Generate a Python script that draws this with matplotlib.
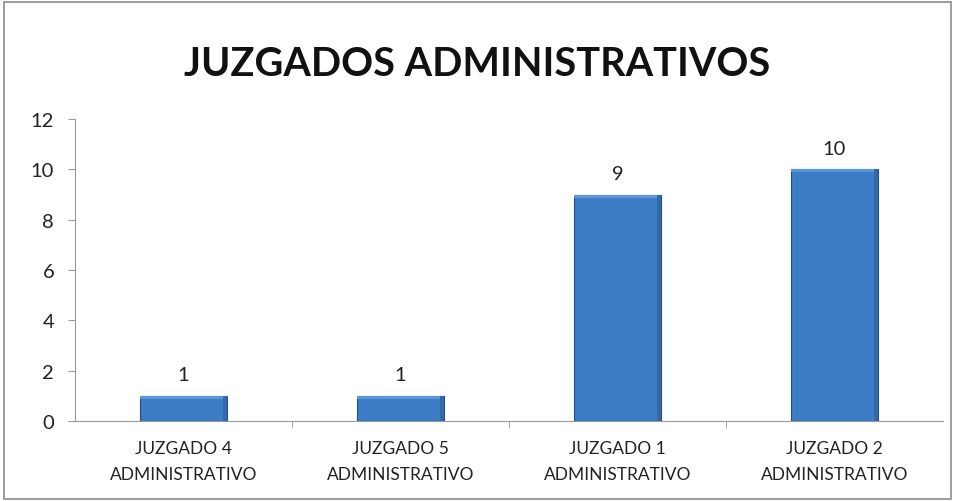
import numpy as np
import matplotlib.pyplot as plt
from matplotlib.patches import Rectangle

categories = ['JUZGADO 4\nADMINISTRATIVO', 'JUZGADO 5\nADMINISTRATIVO',
              'JUZGADO 1\nADMINISTRATIVO', 'JUZGADO 2\nADMINISTRATIVO']
values = [1, 1, 9, 10]
yticks = [0, 2, 4, 6, 8, 10, 12]

plt.rcParams['font.family'] = ['Lato', 'DejaVu Sans']

fig = plt.figure(figsize=(9.55, 5.02), dpi=100)
# chart frame
fig.patches.append(Rectangle((0.004, 0.004), 0.992, 0.99, transform=fig.transFigure,
                             fill=False, edgecolor='#8c8c8c', linewidth=1.2))

ax = fig.add_axes([75 / 955, (502 - 422) / 502, (943 - 75) / 955, (422 - 120) / 502])

x = np.arange(len(values))
bars = ax.bar(x, values, width=0.4, color='#3d7cc6', edgecolor='#23517f', linewidth=0.8, zorder=3)

# simple bevel: lighter top strip and darker right strip
for b in bars:
    bx, by, bw, bh = b.get_x(), b.get_y(), b.get_width(), b.get_height()
    ax.add_patch(Rectangle((bx, by + bh - 0.12), bw, 0.12, color='#5b97d8', lw=0, zorder=4))
    ax.add_patch(Rectangle((bx + bw * 0.95, by), bw * 0.05, bh, color='#3468a6', lw=0, zorder=4))

for xi, v in zip(x, values):
    ax.text(xi, v + 0.5, str(v), ha='center', va='bottom', fontsize=14.5, color='#222222')

ax.set_xlim(-0.5, len(values) - 0.5)
ax.set_ylim(0, 12)
ax.set_yticks(yticks)
ax.set_yticklabels([str(t) for t in yticks], fontsize=14.5, color='#222222')
ax.set_xticks(x)
ax.set_xticklabels(categories, fontsize=12.5, color='#222222', linespacing=1.75)
ax.set_xticks(np.arange(0.5, len(values) - 0.5, 1), minor=True)
ax.tick_params(axis='x', which='major', length=0, pad=14)
ax.tick_params(axis='x', which='minor', length=5, color='#999999')
ax.tick_params(axis='y', length=5, color='#999999', pad=10)

for s in ['top', 'right']:
    ax.spines[s].set_visible(False)
ax.spines['left'].set_color('#999999')
ax.spines['bottom'].set_color('#999999')

fig.text(0.5, 1 - 65 / 502, 'JUZGADOS ADMINISTRATIVOS', ha='center', va='center',
         fontsize=28.5, fontweight='bold', color='#111111')

fig.savefig('out.png', dpi=100)
